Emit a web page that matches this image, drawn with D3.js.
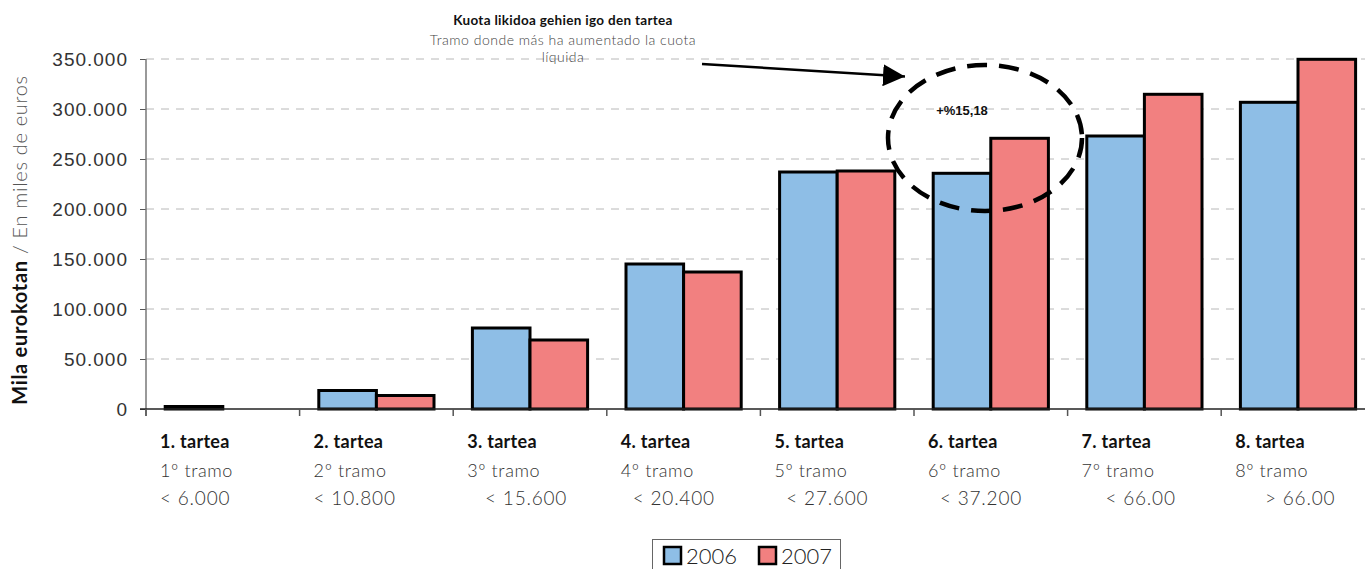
<!DOCTYPE html>
<html><head><meta charset="utf-8">
<script src="https://cdn.jsdelivr.net/npm/d3@7/dist/d3.min.js"></script>
<style>
html,body{margin:0;padding:0;background:#fff;}
svg{display:block;font-family:Lato,"Open Sans",sans-serif;}
</style></head>
<body><svg id="c" width="1365" height="569"></svg>
<script>
const categories = ["1. tartea","2. tartea","3. tartea","4. tartea","5. tartea","6. tartea","7. tartea","8. tartea"];
const tramoLabels = ["1º tramo","2º tramo","3º tramo","4º tramo","5º tramo","6º tramo","7º tramo","8º tramo"];
const rangeLabels = ["< 6.000","< 10.800","   < 15.600","  < 20.400","  < 27.600","  < 37.200","    < 66.00","     > 66.00"];
const seriesNames = ["2006","2007"];
const values2006 = [2500, 18500, 81000, 145000, 237000, 235700, 273000, 306700];
const values2007 = [0, 13500, 69000, 137000, 238000, 270700, 314700, 349700];
const yTicks = [0,50000,100000,150000,200000,250000,300000,350000];
const colors = ["#8EBEE6","#F28080"];
const annotTitle = "Kuota likidoa gehien igo den tartea";
const annotSub = ["Tramo donde más ha aumentado la cuota","líquida"];
const pctLabel = "+%15,18";

const svg = d3.select("#c");
const left = 146, step = 153.6;
const x0 = d3.scaleBand().domain(categories).range([left, left + step*categories.length]).paddingInner(0.25).paddingOuter(0.125);
const x1 = d3.scaleBand().domain(seriesNames).range([0, x0.bandwidth()]);
const y = d3.scaleLinear().domain([0,350000]).range([409,59]);
const fmt = v => v === 0 ? "0" : d3.format(",")(v).replace(/,/g,".");

// gridlines
svg.append("g").selectAll("line").data(yTicks.filter(t=>t>0)).join("line")
  .attr("x1", left).attr("x2", 1365).attr("y1", d=>y(d)).attr("y2", d=>y(d))
  .attr("stroke","#b8b8b8").attr("stroke-width",1).attr("stroke-dasharray","8,7");

// y axis
const yAxis = d3.axisLeft(y).tickValues(yTicks).tickFormat(fmt).tickSize(6).tickPadding(12);
const gy = svg.append("g").attr("transform",`translate(${left},0)`).call(yAxis);
gy.select(".domain").remove();
gy.selectAll(".tick line").attr("stroke","#555");
gy.selectAll("text").attr("font-size",19).attr("font-weight",300).attr("fill","#333").attr("letter-spacing",1);
svg.append("line").attr("x1",left).attr("x2",left).attr("y1",y(350000)).attr("y2",y(0)+7).attr("stroke","#777").attr("stroke-width",1.5);

// bars
const data = [];
categories.forEach((c,i)=>{
  [values2006[i], values2007[i]].forEach((v,j)=>{ if (v>0) data.push({c, s:seriesNames[j], v, j}); });
});
svg.append("g").selectAll("rect").data(data).join("rect")
  .attr("x", d=>x0(d.c)+x1(d.s)).attr("width", x1.bandwidth())
  .attr("y", d=>y(d.v)).attr("height", d=>y(0)-y(d.v))
  .attr("fill", d=>colors[d.j]).attr("stroke","#000").attr("stroke-width",3);

// x axis baseline and ticks
svg.append("line").attr("x1",left-6).attr("x2",1365).attr("y1",y(0)).attr("y2",y(0)).attr("stroke","#222").attr("stroke-width",1.5);
const bounds = d3.range(categories.length+1).map(i=>left + i*x0.step());
svg.append("g").selectAll("line").data(bounds.filter(b=>b<1365)).join("line")
  .attr("x1",d=>d).attr("x2",d=>d).attr("y1",y(0)).attr("y2",y(0)+7).attr("stroke","#555").attr("stroke-width",1.5);

// x labels
const labX = c => x0(c) - x0.step()*0.125 + 14;
const gl = svg.append("g");
gl.selectAll(".c1").data(categories).join("text").attr("x",labX).attr("y",448)
  .attr("font-size",18).attr("font-weight",700).attr("fill","#111").attr("letter-spacing",0.3).text(d=>d);
gl.selectAll(".c2").data(categories).join("text").attr("x",(d)=>labX(d)).attr("y",477)
  .attr("font-size",18).attr("font-weight",300).attr("fill","#333").attr("letter-spacing",0.6).text((d,i)=>tramoLabels[i]);
gl.selectAll(".c3").data(categories).join("text").attr("x",(d)=>labX(d)).attr("y",505)
  .attr("font-size",19).attr("font-weight",300).attr("fill","#333").attr("letter-spacing",0.8).style("white-space","pre")
  .attr("xml:space","preserve").text((d,i)=>rangeLabels[i]);

// y title
const yt = svg.append("text").attr("transform","translate(27,240) rotate(-90)").attr("text-anchor","middle").attr("font-size",20).attr("letter-spacing",0.7);
yt.append("tspan").attr("font-weight",700).attr("fill","#111").text("Mila eurokotan");
yt.append("tspan").attr("font-weight",300).attr("fill","#555").text(" / En miles de euros");

// annotation
svg.append("text").attr("x",563).attr("y",25).attr("text-anchor","middle").attr("font-size",13.5).attr("font-weight",700).attr("fill","#111").attr("letter-spacing",0.3).text(annotTitle);
svg.append("g").selectAll("text").data(annotSub).join("text").attr("x",563).attr("y",(d,i)=>45+i*17)
  .attr("text-anchor","middle").attr("font-size",14).attr("font-weight",300).attr("fill","#444").attr("letter-spacing",0.5).text(d=>d);

// arrow
svg.append("defs").append("marker").attr("id","ah").attr("viewBox","0 0 10 10").attr("refX",10).attr("refY",5)
  .attr("markerWidth",22).attr("markerHeight",22).attr("markerUnits","userSpaceOnUse").attr("orient","auto")
  .append("path").attr("d","M0,0L10,5L0,10Z").attr("fill","#000");
svg.append("line").attr("x1",702).attr("y1",64).attr("x2",905).attr("y2",76.5).attr("stroke","#000").attr("stroke-width",2.5).attr("marker-end","url(#ah)");

// ellipse
svg.append("ellipse").attr("cx",985).attr("cy",138).attr("rx",97).attr("ry",73)
  .attr("fill","none").attr("stroke","#000").attr("stroke-width",4.5).attr("stroke-dasharray","20,12");
svg.append("text").attr("x",962).attr("y",115).attr("text-anchor","middle").attr("font-family","'Liberation Sans',Arial,sans-serif")
  .attr("font-size",13).attr("font-weight",700).attr("fill","#111").text(pctLabel);

// legend
const lg = svg.append("g");
lg.append("rect").attr("x",652.5).attr("y",539.5).attr("width",188).attr("height",40).attr("fill","#fff").attr("stroke","#666").attr("stroke-width",1);
const li = lg.selectAll(".li").data(seriesNames).join("g").attr("transform",(d,i)=>`translate(${664+i*95},547)`);
li.append("rect").attr("width",17).attr("height",17).attr("fill",(d,i)=>colors[i]).attr("stroke","#000").attr("stroke-width",2.5);
li.append("text").attr("x",22).attr("y",17).attr("font-size",22).attr("font-weight",300).attr("fill","#222").text(d=>d);
</script></body></html>
